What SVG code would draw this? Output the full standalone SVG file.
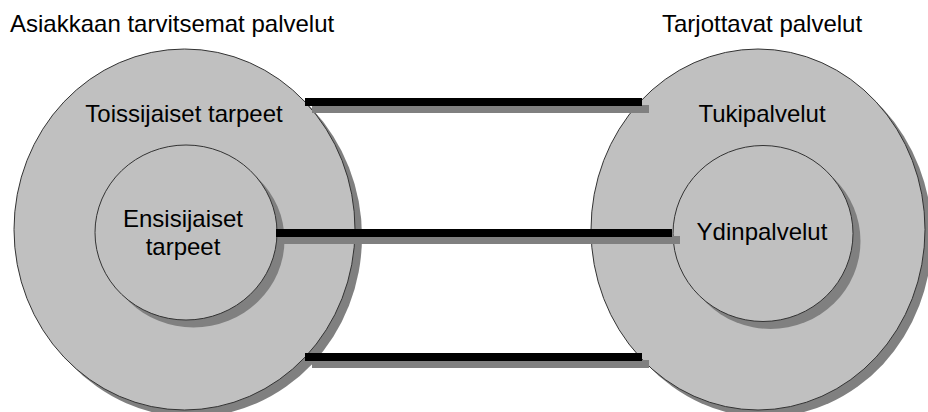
<svg xmlns="http://www.w3.org/2000/svg" width="928" height="412" viewBox="0 0 928 412">
  <style>
    .disc { fill: #c0c0c0; stroke: #333333; stroke-width: 1; }
    .drop { fill: #808080; }
    .bar { fill: #000000; }
    .bar-drop { fill: #808080; }
    text { font-family: "Liberation Sans", Arial, sans-serif; font-size: 24px; fill: #000000; }
    .mid { text-anchor: middle; }
  </style>
  <rect x="0" y="0" width="928" height="412" fill="#ffffff"/>

  <!-- column headings -->
  <text x="10" y="32">Asiakkaan tarvitsemat palvelut</text>
  <text x="662" y="32">Tarjottavat palvelut</text>

  <!-- customer side: secondary needs -->
  <g id="toissijaiset-tarpeet">
    <ellipse class="drop" cx="191.5" cy="236.5" rx="170.5" ry="180.5"/>
    <ellipse class="disc" cx="184.5" cy="229.5" rx="170.5" ry="180.5"/>
    <text class="mid" x="184" y="122">Toissijaiset tarpeet</text>
  </g>

  <!-- customer side: primary needs -->
  <g id="ensisijaiset-tarpeet">
    <ellipse class="drop" cx="193.5" cy="240" rx="91" ry="87.5"/>
    <ellipse class="disc" cx="186" cy="232.5" rx="91" ry="87.5"/>
    <text class="mid" x="183" y="227">Ensisijaiset</text>
    <text class="mid" x="183" y="255">tarpeet</text>
  </g>

  <!-- offering side: support services -->
  <g id="tukipalvelut">
    <ellipse class="drop" cx="765" cy="236.5" rx="167" ry="180.5"/>
    <ellipse class="disc" cx="758" cy="229.5" rx="167" ry="180.5"/>
    <text class="mid" x="762" y="122">Tukipalvelut</text>
  </g>

  <!-- offering side: core services -->
  <g id="ydinpalvelut">
    <ellipse class="drop" cx="770.5" cy="241" rx="90" ry="88"/>
    <ellipse class="disc" cx="763" cy="233.5" rx="90" ry="88"/>
    <text class="mid" x="762" y="240">Ydinpalvelut</text>
  </g>

  <!-- links between need levels and service levels -->
  <g id="connectors">
    <rect class="bar-drop" x="312" y="105" width="337" height="8"/>
    <rect class="bar" x="305" y="98" width="337" height="8"/>
    <rect class="bar-drop" x="283" y="236" width="397" height="8"/>
    <rect class="bar" x="276" y="229" width="396" height="8"/>
    <rect class="bar-drop" x="312" y="360" width="337" height="8"/>
    <rect class="bar" x="305" y="353" width="337" height="8"/>
  </g>
</svg>
